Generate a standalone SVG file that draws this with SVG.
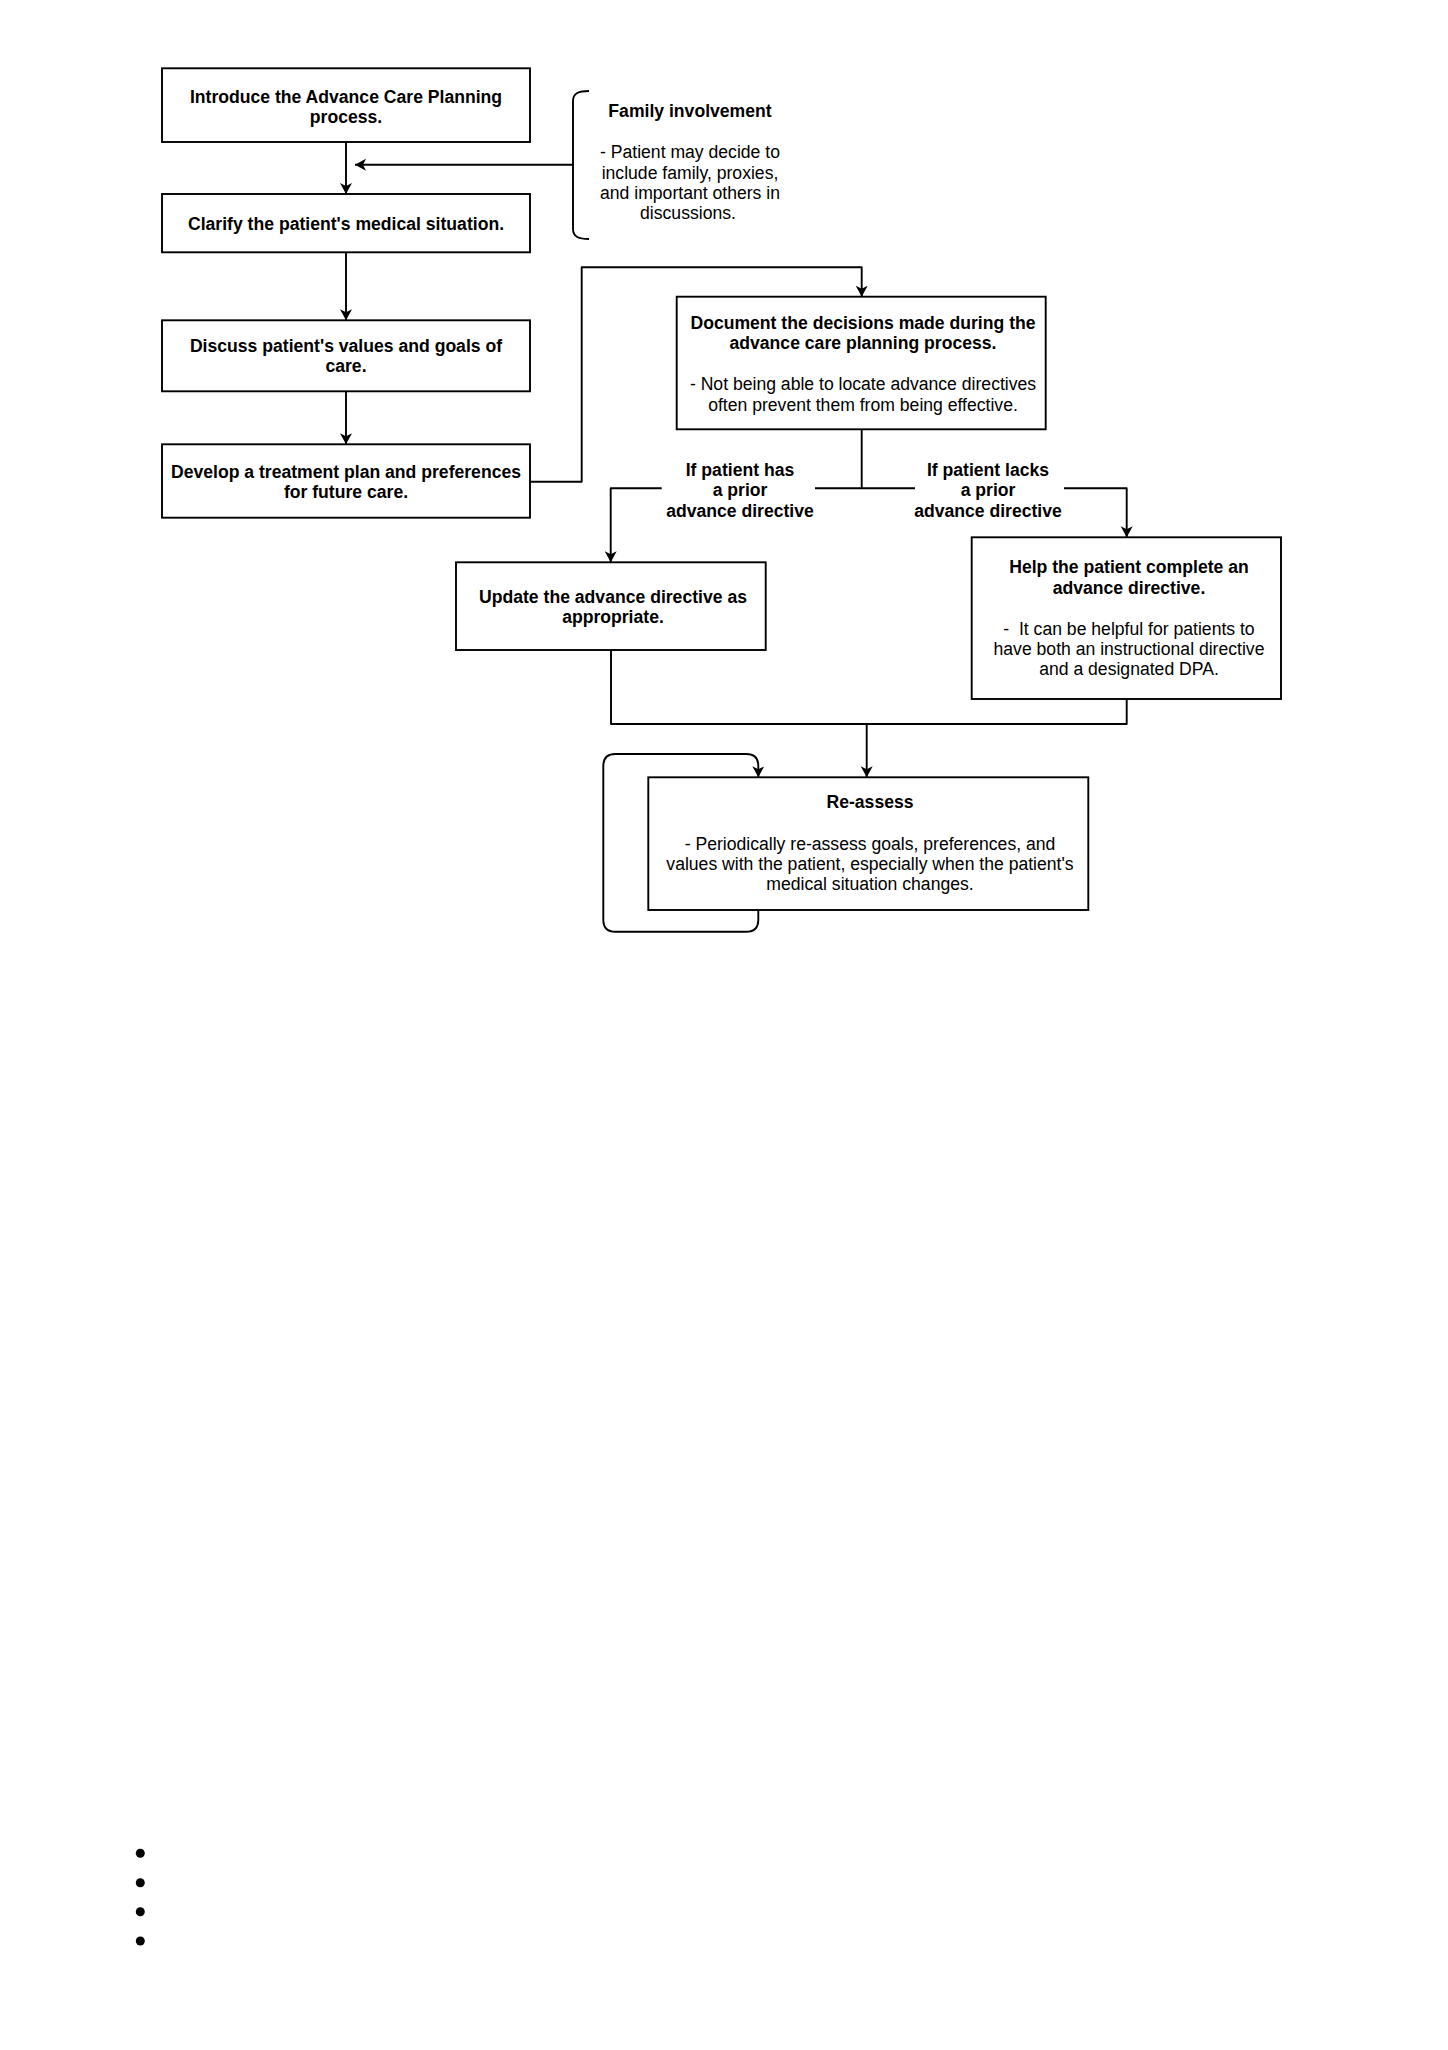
<svg xmlns="http://www.w3.org/2000/svg" width="1448" height="2050" viewBox="0 0 1448 2050">
<style>
.box{fill:#fff;stroke:#000;stroke-width:1.9}
.ln{fill:none;stroke:#000;stroke-width:1.9;stroke-linejoin:round}
.arr{marker-end:url(#ah)}
text{font-family:"Liberation Sans",Arial,Helvetica,sans-serif;font-size:17.6px;fill:#000;text-anchor:middle}
.b{font-weight:bold}
</style>
<defs>
<marker id="ah" markerUnits="userSpaceOnUse" markerWidth="14" markerHeight="14" refX="11" refY="6" orient="auto">
<path d="M0,0 L11,6 L0,12 L3,6 z" fill="#000"/>
</marker>
</defs>
<rect width="1448" height="2050" fill="#fff"/>
<g id="connectors">
<path class="ln arr" d="M346,142 V194"/>
<path class="ln arr" d="M573,164.7 H355"/>
<path class="ln arr" d="M346,252.3 V320.3"/>
<path class="ln arr" d="M346,391.3 V444.3"/>
<path class="ln arr" d="M530,481.7 H581.7 V267.3 H861.7 V296.7"/>
<path class="ln arr" d="M861.7,429.3 V488.3 H815 M661.7,488.3 H610.7 V562.3"/>
<path class="ln arr" d="M861.7,488.3 H915 M1064,488.3 H1126.7 V537.3"/>
<path class="ln arr" d="M611,650 V724 H866.7 V777.3"/>
<path class="ln" d="M1126.7,699 V724 H866.7"/>
<path class="ln arr" d="M758.3,910 V919.7 Q758.3,931.7 746.3,931.7 H615.3 Q603.3,931.7 603.3,919.7 V766 Q603.3,754 615.3,754 H746.3 Q758.3,754 758.3,766 V777.3"/>
<g id="label-has">
<text class="b" x="740" y="476">If patient has</text>
<text class="b" x="740" y="496">a prior</text>
<text class="b" x="740" y="516.5">advance directive</text>
</g>
<g id="label-lacks">
<text class="b" x="988" y="476">If patient lacks</text>
<text class="b" x="988" y="496">a prior</text>
<text class="b" x="988" y="516.5">advance directive</text>
</g>
</g>
<g id="introduce">
<rect class="box" x="162" y="68.3" width="368" height="73.7"/>
<text class="b" x="346" y="103.3">Introduce the Advance Care Planning</text>
<text class="b" x="346" y="123.3">process.</text>
</g>
<g id="family">
<path class="ln" d="M589,91 C579,91 573,93 573,101 L573,229 C573,237 579,239 589,239"/>
<text class="b" x="690" y="116.7">Family involvement</text>
<text x="690" y="158.3">- Patient may decide to</text>
<text x="690" y="179">include family, proxies,</text>
<text x="690" y="199">and important others in</text>
<text x="688" y="219.3">discussions.</text>
</g>
<g id="clarify">
<rect class="box" x="162" y="194" width="368" height="58.3"/>
<text class="b" x="346" y="230">Clarify the patient's medical situation.</text>
</g>
<g id="discuss">
<rect class="box" x="162" y="320.3" width="368" height="71"/>
<text class="b" x="346" y="352">Discuss patient's values and goals of</text>
<text class="b" x="346" y="372">care.</text>
</g>
<g id="develop">
<rect class="box" x="162" y="444.3" width="368" height="73.4"/>
<text class="b" x="346" y="477.7">Develop a treatment plan and preferences</text>
<text class="b" x="346" y="497.7">for future care.</text>
</g>
<g id="document">
<rect class="box" x="676.7" y="296.7" width="369" height="132.6"/>
<text class="b" x="863" y="328.5">Document the decisions made during the</text>
<text class="b" x="863" y="349">advance care planning process.</text>
<text x="863" y="390">- Not being able to locate advance directives</text>
<text x="863" y="410.5">often prevent them from being effective.</text>
</g>
<g id="update">
<rect class="box" x="456" y="562.3" width="309.7" height="87.7"/>
<text class="b" x="613" y="603.3">Update the advance directive as</text>
<text class="b" x="613" y="623.3">appropriate.</text>
</g>
<g id="help">
<rect class="box" x="971.7" y="537.3" width="309.3" height="161.7"/>
<text class="b" x="1129" y="573.3">Help the patient complete an</text>
<text class="b" x="1129" y="594">advance directive.</text>
<text x="1129" y="635" xml:space="preserve">-  It can be helpful for patients to</text>
<text x="1129" y="655">have both an instructional directive</text>
<text x="1129" y="675">and a designated DPA.</text>
</g>
<g id="reassess">
<rect class="box" x="648.3" y="777.3" width="440" height="132.7"/>
<text class="b" x="870" y="808.3">Re-assess</text>
<text x="870" y="850">- Periodically re-assess goals, preferences, and</text>
<text x="870" y="870">values with the patient, especially when the patient's</text>
<text x="870" y="890">medical situation changes.</text>
</g>
<g id="bullets">
<circle cx="140.3" cy="1853.3" r="4.5" fill="#000"/>
<circle cx="140.3" cy="1882.7" r="4.5" fill="#000"/>
<circle cx="140.3" cy="1911.7" r="4.5" fill="#000"/>
<circle cx="140.3" cy="1941" r="4.5" fill="#000"/>
</g>
</svg>
